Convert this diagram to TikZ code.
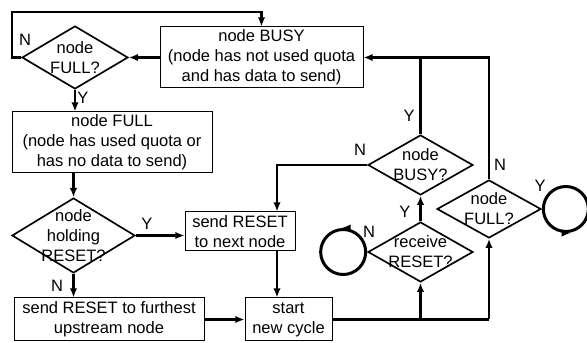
\documentclass[tikz,border=0pt]{standalone}
\usepackage{fontspec}
\setmainfont{Liberation Sans}
\usetikzlibrary{arrows.meta, positioning, shapes.geometric}

\begin{document}
\begin{tikzpicture}[x=0.6pt, y=-0.6pt, >={Latex[length=5.5pt,width=4.5pt]},
  font=\fontsize{9.9}{12}\selectfont,
  box/.style={draw, line width=0.6pt, align=center, inner sep=0pt},
  decision/.style={draw, diamond, line width=1pt, inner sep=0pt},
  flow/.style={line width=1.5pt},
  loopring/.style={draw, circle, line width=1.8pt, inner sep=0pt, minimum size=27pt},
  answer/.style={inner sep=0pt}]
  \useasboundingbox (0,0) rectangle (587,343);
  % Boxes
  \node[box, minimum width=121.8pt, minimum height=36.6pt] (busy) at (261.5,57.5)
    {node BUSY\\(node has not used quota\\and has data to send)};
  \node[box, minimum width=120pt, minimum height=36.6pt] (fullbox) at (112,142.5)
    {node FULL\\(node has used quota or\\has no data to send)};
  \node[box, minimum width=66pt, minimum height=23.4pt] (next) at (240,231.5)
    {send RESET\\to next node};
  \node[box, minimum width=114pt, minimum height=25.8pt] (far) at (109,319.5)
    {send RESET to furthest\\upstream node};
  \node[box, minimum width=52.2pt, minimum height=25.8pt] (start) at (288.5,319.5)
    {start\\new cycle};
  % Decisions
  \node[decision, minimum width=63.6pt, minimum height=37.8pt,
    label={[align=center]center:node\\FULL?}] (full1) at (75,57.5) {};
  \node[decision, minimum width=73.8pt, minimum height=45pt,
    label={[align=center]center:node\\holding\\RESET?}] (hold) at (73.5,235.5) {};
  \node[decision, minimum width=63pt, minimum height=36pt,
    label={[align=center]center:node\\BUSY?}] (busyq) at (420.5,165) {};
  \node[decision, minimum width=63pt, minimum height=36pt,
    label={[align=center]center:receive\\RESET?}] (recv) at (420.5,252) {};
  \node[decision, minimum width=62.4pt, minimum height=34.8pt,
    label={[align=center]center:node\\FULL?}] (full2) at (489,209) {};
  % Waiting loops
  \node[loopring, left=0pt of recv] (idle) {};
  \node[loopring, right=0pt of full2] (spin) {};
  \draw[flow,->] ([xshift=3pt]idle.north) -- ([xshift=-1pt]idle.north);
  \draw[flow,->] ([xshift=-1pt]spin.south) -- ([xshift=3pt]spin.south);
  % Connectors
  \coordinate (topleft) at (12,12);
  \coordinate (col) at (277,0);
  \draw[flow,->] (full1.west) -| (topleft) -| (busy.north);
  \draw[flow,->] (busy.west) -- (full1.east);
  \draw[flow,->] (full1.south) -- (full1.south |- fullbox.north);
  \draw[flow,->] (hold.north |- fullbox.south) -- (hold.north);
  \draw[flow,->] (hold.east) -- (hold.east -| next.west);
  \draw[flow,->] (hold.south) -- (hold.south |- far.north);
  \draw[flow,->] (far.east) -- (start.west);
  \draw[flow,->] (col |- next.south) -- (col |- start.north);
  \draw[flow,->] (busyq.west) -| (col |- next.north);
  \draw[flow] (start.east) -- (start.east -| full2.south);
  \draw[flow,->] (start.east -| recv.south) -- (recv.south);
  \draw[flow,->] (start.east -| full2.south) -- (full2.south);
  \draw[flow,->] (recv.north) -- (busyq.south);
  \draw[flow] (busyq.north) -- (busyq.north |- busy.east);
  \draw[flow,->] (full2.north) |- (busy.east);
  % Answers
  \node[answer] (n1) at (25,40) {N};
  \node[answer] (y1) at (83,98) {Y};
  \node[answer] (y2) at (147,224) {Y};
  \node[answer] (n2) at (57,286) {N};
  \node[answer] (n3) at (360,150) {N};
  \node[answer] (y3) at (409,116) {Y};
  \node[answer] (y4) at (405,212) {Y};
  \node[answer] (n4) at (500,165) {N};
  \node[answer] (y5) at (540,186) {Y};
  \node[answer] (n5) at (369,232) {N};
\end{tikzpicture}
\end{document}
